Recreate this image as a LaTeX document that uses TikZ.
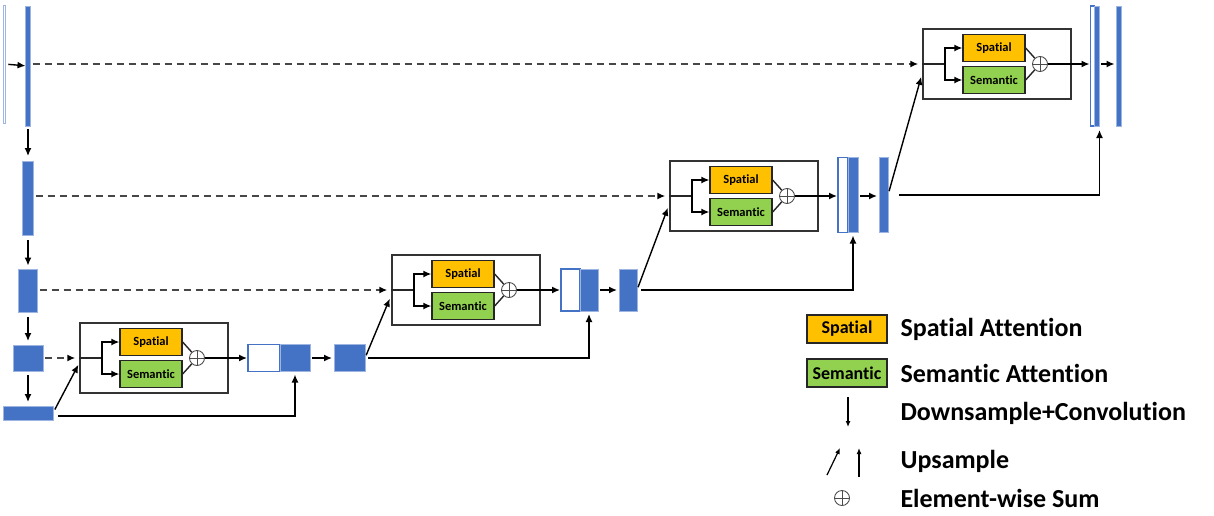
\documentclass[tikz,border=0pt]{standalone}
\usepackage{fontspec}
\setmainfont{Carlito}[Ligatures=NoCommon]
\usetikzlibrary{arrows.meta}
\definecolor{barBlue}{HTML}{4472C4}
\definecolor{barEdge}{HTML}{9DB5E0}
\definecolor{spOrange}{HTML}{FFC000}
\definecolor{seGreen}{HTML}{92D050}
\begin{document}
\begin{tikzpicture}[x=1pt,y=-1pt,
  bar/.style={draw=barEdge,fill=barBlue,line width=.8pt,inner sep=0,outer sep=0},
  hollow/.style={draw=barBlue,fill=white,line width=1.4pt,inner sep=0,outer sep=0},
  attbox/.style={draw=black!80,line width=1.4pt,minimum width=148pt,minimum height=70pt,inner sep=0},
  spbox/.style={draw=black!85,fill=spOrange,line width=1.3pt,minimum width=62pt,minimum height=27pt,
    inner sep=0,font=\bfseries\fontsize{12.5}{13}\selectfont},
  sebox/.style={spbox,fill=seGreen},
  legbox/.style={minimum width=80pt,minimum height=28pt,font=\bfseries\fontsize{18}{20}\selectfont},
  sumnode/.style={circle,draw=black!70,fill=white,line width=.9pt,minimum size=15pt,inner sep=0,
    path picture={\draw[black!70,line width=.8pt]
      (path picture bounding box.north) -- (path picture bounding box.south)
      (path picture bounding box.west) -- (path picture bounding box.east);}},
  line/.style={draw=black!85,line width=1.4pt},
  arr/.style={draw=black,line width=1.4pt,-{Latex[length=8pt,width=7pt]}},
  skip/.style={draw=black!72,line width=1.8pt,dash pattern=on 7pt off 5pt,
    -{Latex[length=8pt,width=7pt,color=black]},shorten <=2pt,shorten >=4pt},
  legarr/.style={draw=black,line width=1.2pt,-{Latex[length=6pt,width=5pt]}},
  legtext/.style={anchor=west,font=\bfseries\fontsize{26}{28}\selectfont}]

\useasboundingbox (0,0) rectangle (1214,515);

% Encoder column
\node[draw=barEdge,line width=.6pt,minimum width=2pt,minimum height=118pt,inner sep=0] (img) at (4,64) {};
\node[bar,minimum width=5pt,minimum height=120pt] (e1) at (28,66) {};
\node[bar,minimum width=11pt,minimum height=74pt] (e2) at (28,198) {};
\node[bar,minimum width=19pt,minimum height=43pt] (e3) at (28,291) {};
\node[bar,minimum width=30pt,minimum height=26pt] (e4) at (28,358) {};
\node[bar,minimum width=50pt,minimum height=14pt] (e5) at (28,413) {};
\draw[arr,shorten <=3pt] (img) -- (e1);
\draw[arr,shorten <=3pt,shorten >=5pt] (e1) -- (e2);
\draw[arr,shorten <=5pt,shorten >=4pt] (e2) -- (e3);
\draw[arr,shorten <=4pt,shorten >=4pt] (e3) -- (e4);
\draw[arr,shorten <=4pt,shorten >=4pt] (e4) -- (e5);

% Attention blocks: number / left edge / row
\foreach \i/\lx/\ry in {1/80/358,2/392/290,3/670/196,4/923/64}
{
  \node[attbox] (blk\i) at (\lx+74,\ry) {};
  \node[spbox] (sp\i) at (\lx+71,\ry-16) {Spatial};
  \node[sebox] (se\i) at (\lx+71,\ry+16) {Semantic};
  \node[sumnode] (sum\i) at (\lx+117,\ry) {};
  \coordinate (br\i) at (\lx+22,\ry);
  \draw[line] (blk\i.west) -- (br\i);
  \draw[arr] (br\i) |- (sp\i.west);
  \draw[arr] (br\i) |- (se\i.west);
  \draw[line] (sp\i.east) -- (sum\i);
  \draw[line] (se\i.east) -- (sum\i);
}

% Decoder: concatenated features and convolved outputs
\node[hollow,minimum width=32pt,minimum height=27pt] (cw1) at (264,358) {};
\node[bar,minimum width=30pt,minimum height=27pt] (cb1) at (295,358) {};
\node[bar,minimum width=31pt,minimum height=27pt] (up1) at (349.5,358) {};
\node[hollow,minimum width=19pt,minimum height=42pt] (cw2) at (570.5,290) {};
\node[bar,minimum width=18pt,minimum height=42pt] (cb2) at (589,290) {};
\node[bar,minimum width=18pt,minimum height=42pt] (up2) at (628,290) {};
\node[hollow,minimum width=10pt,minimum height=75pt] (cw3) at (843,195) {};
\node[bar,minimum width=10pt,minimum height=75pt] (cb3) at (853,195) {};
\node[bar,minimum width=9pt,minimum height=75pt] (up3) at (883.5,195) {};
\node[hollow,minimum width=4pt,minimum height=120pt] (cw4) at (1092.5,66) {};
\node[bar,minimum width=5pt,minimum height=120pt] (cb4) at (1096.5,66) {};
\node[bar,minimum width=5pt,minimum height=120pt] (up4) at (1119,66) {};

\foreach \i in {1,2,3,4}
{
  \draw[arr,shorten >=1pt] (sum\i) -- (cw\i.west |- sum\i);
  \draw[arr,shorten <=2pt,shorten >=2pt] (cb\i.east |- sum\i) -- (up\i.west |- sum\i);
}

% Skip connections
\draw[skip] (e1.east |- blk4) -- (blk4.west);
\draw[skip] (e2.east |- blk3) -- (blk3.west);
\draw[skip] (e3.east |- blk2) -- (blk2.west);
\draw[skip] (e4) -- (blk1.west);

% Upsampling paths
\draw[arr,shorten <=4pt,shorten >=2pt] (e5.east) -- ([yshift=-5pt]blk1.west);
\draw[arr,shorten >=3pt] ([shift={(5pt,-3pt)}]e5.east) -| (cb1.south);
\draw[arr,shorten <=3pt,shorten >=4pt] (up1.east) -- ([yshift=-5pt]blk2.west);
\draw[arr,shorten >=3pt] ([xshift=3pt]up1.east) -| (cb2.south);
\draw[arr,shorten <=3pt,shorten >=4pt] (up2.east) -- ([yshift=-8pt]blk3.west);
\draw[arr,shorten >=3pt] ([xshift=4pt]up2.east) -| (cb3.south);
\draw[arr,shorten <=4pt,shorten >=4pt] (up3.east) -- ([yshift=-9pt]blk4.west);
\draw[arr,shorten >=4pt] ([xshift=11pt]up3.east) -| ([xshift=3pt]cb4.south);

% Legend
\node[spbox,legbox] (legsp) at (847,329) {Spatial};
\node[sebox,legbox] (legse) at (847,373) {Semantic};
\node[legtext] (ltsp) at (897,329) {Spatial Attention};
\node[legtext] (ltse) at (897,373) {Semantic Attention};
\node[legtext] (ltdn) at (897,413) {Downsample+Convolution};
\node[legtext] (ltup) at (897,461) {Upsample};
\node[legtext] (ltsum) at (897,498) {Element-wise Sum};
\coordinate (dna) at (848,397);
\coordinate (dnb) at (848,427);
\draw[legarr] (dna) -- (dnb);
\coordinate (uda) at (827,475);
\coordinate (udb) at (840,448);
\draw[legarr] (uda) -- (udb);
\coordinate (uva) at (859,477);
\coordinate (uvb) at (859,448);
\draw[legarr] (uva) -- (uvb);
\node[sumnode,minimum size=15pt] (legsum) at (842,498) {};
\end{tikzpicture}
\end{document}
